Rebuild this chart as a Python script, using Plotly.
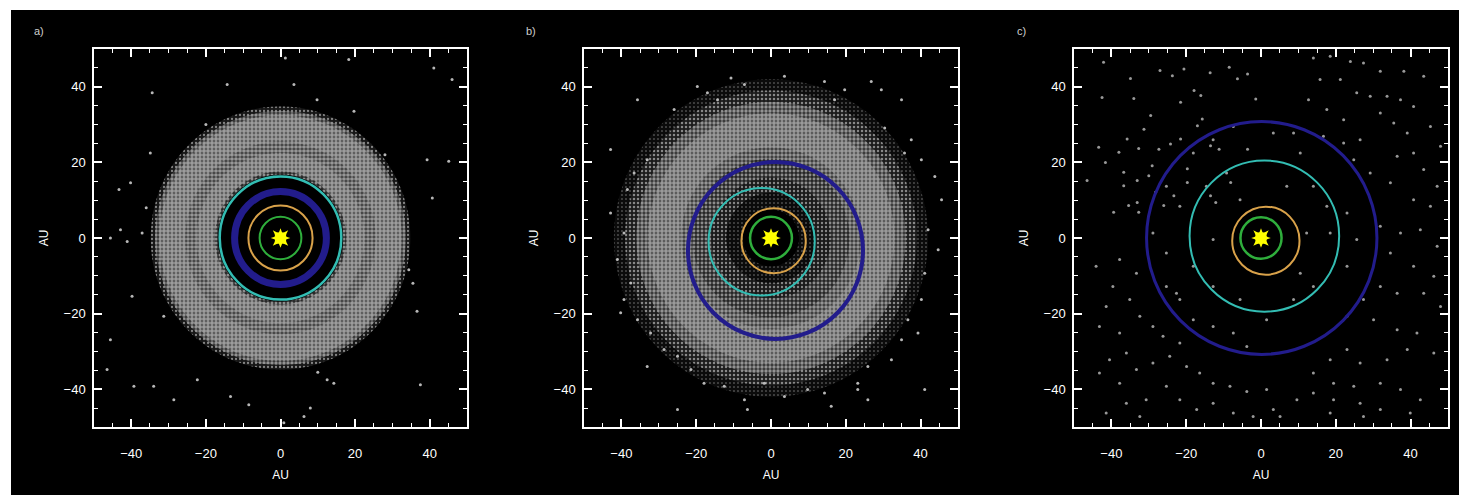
import numpy as np
import plotly.graph_objects as go

W, H = 1467, 495
OFF = 8  # browser default body margin, compensated in all pixel positions

# ---------------- data ----------------
panel_labels = ["a)", "b)", "c)"]
planet_names = ["Jupiter", "Saturn", "Uranus", "Neptune"]
planet_colors = ["#2fae3c", "#d9a24a", "#33bdb3", "#221c8c"]

# orbit centres (AU) and radii (AU) per panel, order = planet_names
orbit_cx_a = [0.0, 0.0, 0.0, 0.0]
orbit_cy_a = [0.0, 0.0, 0.0, 0.0]
orbit_r_a = [5.6, 8.6, 16.3, 12.3]
orbit_w_a = [2, 2, 2.5, 7]

orbit_cx_b = [0.0, 0.7, -2.5, 1.2]
orbit_cy_b = [0.0, -0.7, -1.0, -3.3]
orbit_r_b = [5.6, 8.6, 14.2, 23.4]
orbit_w_b = [2.5, 2, 2, 4]

orbit_cx_c = [0.0, 1.3, 0.9, 0.2]
orbit_cy_c = [0.0, -0.7, 0.5, 0.0]
orbit_r_c = [5.5, 9.0, 20.0, 30.8]
orbit_w_c = [2.5, 2, 2, 3]

# planetesimal disk: radial bins (AU) and relative surface brightness
disk_edges_a = [16.8, 17.6, 22.5, 25.5, 32.5, 33.6, 34.8]
disk_level_a = [0.45, 0.75, 0.66, 0.75, 0.55, 0.25]

disk_edges_b = [7.5, 12.0, 16.0, 21.0, 24.0, 33.0, 36.0, 39.0, 42.0]
disk_level_b = [0.12, 0.28, 0.42, 0.60, 0.72, 0.55, 0.30, 0.12]

disk_edges_c = []
disk_level_c = []

# scattered planetesimals (AU)
dots_x_a = [-34.4, -14.3, 3.6, 9.8, 19.7, 41.1, 46.0, -34.9, -40.2, -43.3, 39.3, 45.1, 40.7,
            -45.6, -41.1, -37.1, -42.9, 36.6, -39.8, 34.4, -39.3, -34.0, -28.6, -22.3, -13.4,
            8.0, 12.5, 14.3, 37.5, -45.6, -46.5, 0.9, 6.3, 1.3, 18.3, -8.5, -31.3,
            -36.0, 35.5, 10.0, -20.0, 28.0]
dots_y_a = [38.4, 40.6, 40.6, 36.6, 33.5, 45.0, 41.9, 22.5, 14.6, 12.8, 20.7, 20.3, 10.6,
            0.0, -0.9, 1.3, 2.2, -19.4, -15.4, -8.4, -39.2, -39.2, -42.8, -37.5, -41.9,
            -45.0, -37.5, -38.4, -38.8, -26.9, -34.8, -48.9, -47.2, 47.6, 47.2, -44.1, -20.7,
            8.0, -12.0, -35.5, 30.0, 22.0]

dots_x_b = [-19.7, -17.0, -14.3, -10.7, -7.1, 3.6, 14.3, 19.7, 26.8, 29.5, 34.9, -25.9, 30.4,
            35.7, 40.2, 43.8, 45.6, 42.0, 44.7, 41.1, 40.2, 36.6, 34.9, 32.2, 25.9, 23.2,
            14.3, 9.8, 3.6, -1.8, -7.1, -12.5, -17.9, -21.4, -25.0, -28.6, -32.2, -35.7,
            -39.3, -37.5, -41.1, -39.3, -42.9, -38.4, -36.6, -33.1, -42.9, -40.2, 16.1, 41.1,
            25.9, -6.3, -25.0, 37.5, 23.2, -33.1, -35.7, 17.0, 39.3]
dots_y_b = [40.1, 38.4, 36.6, 42.3, 40.6, 42.8, 41.4, 39.2, 41.4, 39.2, 36.6, 34.0, 29.1,
            22.5, 20.7, 16.3, 10.1, 2.2, -3.1, -9.3, -16.3, -21.6, -26.9, -32.2, -34.0, -38.4,
            -41.0, -40.1, -41.9, -38.4, -42.8, -39.2, -38.4, -34.8, -31.3, -29.5, -25.1, -21.6,
            -16.3, -11.9, -5.7, 1.3, 6.6, 12.8, 17.2, 20.7, 23.4, -19.8, -44.5, -40.1,
            -42.8, -45.4, -45.4, 26.0, -40.1, -34.0, 36.6, 36.6, -25.1]

dots_x_c = [-42.1, -34.9, -27.0, -23.7, -21.5, -20.6, -17.9, -16.1, -13.6, -8.5, -6.3, -3.6, -1.4,
            -42.5, -34.0, -29.5, -31.3, -35.8, -32.7, -43.4, -41.6, -38.0, -27.3, -24.2, -21.5,
            -17.0, -15.7, -13.5, -11.2, -3.6, -36.7, -33.1, -36.7, -46.5, -39.4, -35.4, -33.1,
            -32.7, -28.2, -26.0, -23.3, -19.7, -19.7, -13.5, -12.1, -8.1, -30.0, -29.1,
            14.0, 18.5, 23.9, 27.4, 31.9, 38.2, 43.5, 15.8, 21.2, 25.6, 29.2, 33.7, 37.3, 40.8,
            12.7, 17.6, 22.1, 31.9, 35.5, 39.1, 45.3, 48.0, 40.8, 36.4, 43.5, 47.1, 40.8, 45.3,
            34.6, 29.2, 24.8, 22.1, 26.5, 8.7, 16.7,
            31.9, 37.3, 42.6, 47.1, 34.6, 40.8, 46.2, 31.9, 36.4, 43.5, 48.0, 27.4, 23.0, 30.1,
            36.4, 41.7, 46.2, 39.1, 33.7, 26.5, 23.0, 18.5, 14.0, 19.4, 24.8, 31.9, 37.3, 42.6,
            39.9, 31.9, 26.5, 19.4, 14.0, 9.6, 5.1, 1.5, 3.3, 18.5, 27.4,
            -39.6, -35.1, -41.4, -43.2, -37.8, -32.4, -28.9, -26.2, -21.7, -36.0, -40.5, -43.2,
            -37.8, -33.3, -28.9, -24.4, -19.9, -16.4, -12.8, -8.3, -3.8, -25.3, -30.7, -36.0,
            -21.7, -17.2, -41.4, -32.4, -12.8, -7.4, -2.1, -44.1, -37.8, -33.3, -25.3, -21.7,
            -18.1, -12.8, -7.4, -3.8,
            -12.8, -7.4, -18.1, -25.3, -21.7, -28.9, -14.6, -9.2, 3.3, 10.5, 14.0, 17.6, 12.2,
            23.0, 25.6, 23.0, 14.0, 8.7, 1.5, -5.6, -12.8, -18.1, -25.3, -22.6, -12.8, -5.6,
            6.9, 10.5, 18.5]
dots_y_c = [46.5, 42.2, 44.3, 42.9, 35.9, 44.7, 39.0, 37.7, 43.7, 45.2, 42.1, 43.4, 36.8,
            37.2, 36.9, 32.4, 28.8, 26.2, 23.7, 24.0, 20.0, 22.7, 23.5, 24.9, 26.2,
            29.7, 31.5, 24.4, 23.5, 23.5, 17.4, 15.2, 13.8, 15.2, 6.8, 8.6, 9.4,
            6.8, 12.1, 8.6, 11.2, 18.3, 14.7, 11.2, 9.4, 14.7, 16.5, 19.1,
            47.6, 48.1, 46.7, 46.3, 44.1, 44.1, 42.8, 41.9, 41.9, 38.4, 37.5, 37.5, 36.6, 34.8,
            36.6, 34.0, 31.3, 33.1, 30.4, 27.8, 29.5, 24.3, 22.5, 21.6, 18.1, 13.7, 10.1, 8.4,
            14.6, 17.2, 20.7, 25.1, 26.0, 27.8, 26.9,
            3.1, 1.3, 2.2, -2.2, -4.0, -7.5, -10.1, -12.8, -14.6, -14.6, -18.1, -16.3, -20.7, -21.6,
            -24.3, -25.1, -30.4, -29.5, -32.2, -33.1, -29.5, -32.2, -35.7, -38.4, -39.2, -38.4, -40.1, -42.8,
            -46.3, -45.4, -43.7, -42.8, -41.0, -42.8, -47.2, -40.1, -45.4, -46.3, -47.2,
            -12.8, -16.3, -18.1, -23.4, -25.1, -20.7, -23.4, -26.0, -27.8, -30.4, -32.2, -35.7,
            -38.4, -34.8, -33.1, -31.3, -34.0, -35.7, -38.4, -39.2, -40.6, -39.2, -42.8, -43.7,
            -42.8, -45.4, -46.3, -47.2, -43.7, -46.3, -47.2, -7.5, -5.7, -9.3, -12.8, -16.3,
            -21.6, -23.4, -25.1, -28.7,
            26.0, 29.5, 22.5, 13.7, 8.4, 1.3, 13.7, 17.2, 27.8, 22.5, 13.7, 8.4, 1.3,
            6.6, -0.4, -7.5, -12.8, -16.3, -21.6, -16.3, -12.8, -7.5, -4.0, -14.6, -0.4, 10.1,
            13.7, -9.3, 1.3]

# ---------------- layout geometry (reference pixel positions) ----------------
x_px = [(94, 467), (584, 958), (1074, 1448)]
y_px = (49, 427)
label_x = [39, 531, 1021]
label_y = 31

x_domains = [[(a - OFF) / W, (b - OFF) / W] for a, b in x_px]
y_domain = [1 - (y_px[1] - OFF) / H, 1 - (y_px[0] - OFF) / H]

panels = [
    dict(cx=orbit_cx_a, cy=orbit_cy_a, r=orbit_r_a, w=orbit_w_a, edges=disk_edges_a,
         level=disk_level_a, dx=dots_x_a, dy=dots_y_a, dcol="rgba(215,215,215,0.85)"),
    dict(cx=orbit_cx_b, cy=orbit_cy_b, r=orbit_r_b, w=orbit_w_b, edges=disk_edges_b,
         level=disk_level_b, dx=dots_x_b, dy=dots_y_b, dcol="rgba(215,215,215,0.85)"),
    dict(cx=orbit_cx_c, cy=orbit_cy_c, r=orbit_r_c, w=orbit_w_c, edges=disk_edges_c,
         level=disk_level_c, dx=dots_x_c, dy=dots_y_c, dcol="rgba(190,190,190,0.8)"),
]

FONT = "Liberation Sans, Arial, Helvetica, sans-serif"
theta = np.linspace(0, 2 * np.pi, 241)

fig = go.Figure()
shapes = []
annotations = []

# black page background (white strip on top/left as in reference)
shapes.append(dict(type="rect", xref="paper", yref="paper", x0=(11 - OFF) / W, x1=1.01, y0=-0.05,
                   y1=1 - (10 - OFF) / H, fillcolor="black", line=dict(width=0), layer="below"))

for i, p in enumerate(panels):
    sfx = "" if i == 0 else str(i + 1)
    xa, ya = "x" + sfx, "y" + sfx

    # disk rings as stacked filled discs (outer first) with a speckle pattern
    edges, level = p["edges"], p["level"]
    for k in range(len(level) - 1, -1, -1):
        R = edges[k + 1]
        g = int(round(90 * level[k]))
        fig.add_trace(go.Scatter(
            x=R * np.cos(theta), y=R * np.sin(theta), xaxis=xa, yaxis=ya,
            mode="none", fill="toself", fillcolor="black",
            fillpattern=dict(shape=".", fgcolor="#f4f4f4", bgcolor=f"rgb({g},{g},{g})",
                             size=4, solidity=level[k]),
            showlegend=False, hoverinfo="skip"))
    if edges:
        R = edges[0]
        fig.add_trace(go.Scatter(
            x=R * np.cos(theta), y=R * np.sin(theta), xaxis=xa, yaxis=ya,
            mode="none", fill="toself", fillcolor="black",
            showlegend=False, hoverinfo="skip"))

    # scattered particles
    fig.add_trace(go.Scatter(x=p["dx"], y=p["dy"], mode="markers", xaxis=xa, yaxis=ya,
                             marker=dict(size=3, color=p["dcol"], line=dict(width=0)),
                             showlegend=False, hoverinfo="skip"))

    # planet orbits
    for j, name in enumerate(planet_names):
        cx, cy, r = p["cx"][j], p["cy"][j], p["r"][j]
        shapes.append(dict(type="circle", xref=xa, yref=ya, x0=cx - r, x1=cx + r,
                           y0=cy - r, y1=cy + r,
                           line=dict(color=planet_colors[j], width=p["w"][j]),
                           layer="above", name=name))

    # Sun (8-pointed star)
    for sym in ["star-square", "star-diamond"]:
        fig.add_trace(go.Scatter(x=[0], y=[0], mode="markers", xaxis=xa, yaxis=ya,
                                 marker=dict(symbol=sym, size=14, color="#ffff00",
                                             line=dict(width=0)),
                                 showlegend=False, hoverinfo="skip"))

    common = dict(range=[-50, 50], tickmode="linear", tick0=0, dtick=20,
                  ticks="inside", ticklen=8, tickwidth=1.5, tickcolor="white",
                  showline=True, linecolor="white", linewidth=1.5, mirror="allticks",
                  showgrid=False, zeroline=False, fixedrange=True,
                  minor=dict(tickmode="linear", tick0=0, dtick=5, ticks="inside", ticklen=4,
                             tickwidth=1.2, tickcolor="white", showgrid=False),
                  tickfont=dict(family=FONT, color="white", size=13))
    fig.layout["xaxis" + sfx] = dict(common, domain=x_domains[i], anchor=ya,
                                     ticklabelstandoff=14,
                                     title=dict(text="AU", standoff=10,
                                                font=dict(family=FONT, color="white", size=12)))
    fig.layout["yaxis" + sfx] = dict(common, domain=y_domain, anchor=xa,
                                     ticklabelstandoff=4,
                                     title=dict(text="AU", standoff=12,
                                                font=dict(family=FONT, color="white", size=12)))

    annotations.append(dict(text=panel_labels[i], xref="paper", yref="paper",
                            x=(label_x[i] - OFF) / W, y=1 - (label_y - OFF) / H,
                            xanchor="center", yanchor="middle", showarrow=False,
                            font=dict(family=FONT, color="#cfcfcf", size=11)))

fig.update_layout(width=W, height=H, margin=dict(l=0, r=0, t=0, b=0),
                  paper_bgcolor="white", plot_bgcolor="black",
                  shapes=shapes, annotations=annotations, showlegend=False)

fig.write_html("out.html")
